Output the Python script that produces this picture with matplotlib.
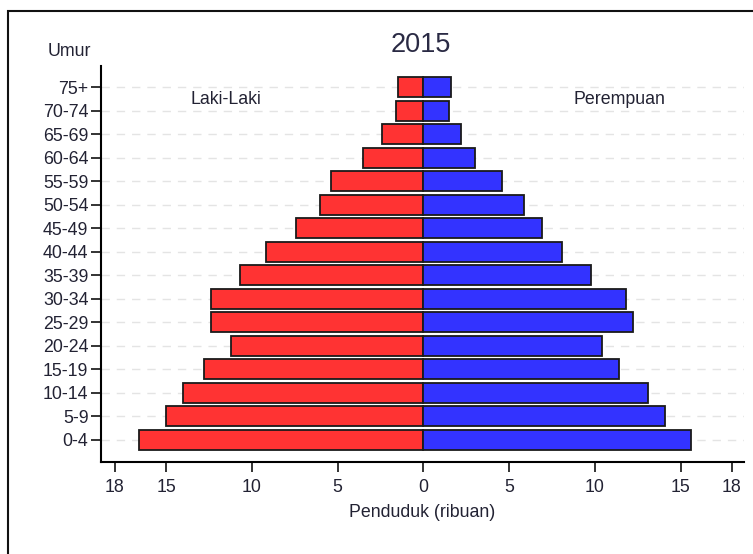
import matplotlib.pyplot as plt
import numpy as np
from matplotlib.patches import Rectangle

# Kelompok umur (dari bawah ke atas)
age_groups = ['0-4', '5-9', '10-14', '15-19', '20-24', '25-29', '30-34', '35-39',
              '40-44', '45-49', '50-54', '55-59', '60-64', '65-69', '70-74', '75+']

# Penduduk (ribuan)
male = [16.6, 15.0, 14.0, 12.8, 11.2, 12.4, 12.4, 10.7,
        9.2, 7.4, 6.0, 5.4, 3.5, 2.4, 1.6, 1.5]
female = [15.6, 14.1, 13.1, 11.4, 10.4, 12.2, 11.8, 9.8,
          8.1, 6.9, 5.9, 4.6, 3.0, 2.2, 1.5, 1.6]

xticks = [-18, -15, -10, -5, 0, 5, 10, 15, 18]

plt.rcParams['font.family'] = ['Liberation Sans', 'DejaVu Sans']
text_color = '#222233'
fs = 12.8

fig = plt.figure(figsize=(7.53, 5.54), dpi=100)
ax = fig.add_axes([0.1341, 0.1661, 0.8539, 0.7148])

# Bingkai luar
fig.patches.append(Rectangle((8 / 753, -0.1), 1.2, 1 - 11 / 554 + 0.1,
                             transform=fig.transFigure, fill=False,
                             edgecolor='#111111', linewidth=1.5))

y = np.arange(len(age_groups))

# Garis bantu putus-putus
for yy in y:
    ax.axhline(yy, color='#e4e4e4', linestyle=(0, (6, 5)), linewidth=1, zorder=0)

ax.barh(y, -np.array(male), height=0.84, color='#ff3333', edgecolor='#1a1a1a',
        linewidth=1.3, zorder=2)
ax.barh(y, female, height=0.84, color='#3333ff', edgecolor='#1a1a1a',
        linewidth=1.3, zorder=2)

ax.set_xlim(-18.8, 18.7)
ax.set_ylim(-0.94, 15.9)

ax.set_yticks(y)
ax.set_yticklabels(age_groups)
ax.set_xticks(xticks)
ax.set_xticklabels([str(abs(t)) for t in xticks])
ax.tick_params(axis='both', labelsize=fs, colors='#111111', labelcolor=text_color,
               length=7, width=1.2)
ax.tick_params(axis='x', pad=5)
ax.tick_params(axis='y', pad=2)

ax.spines['right'].set_visible(False)
ax.spines['top'].set_visible(False)
ax.spines['left'].set_linewidth(1.5)
ax.spines['bottom'].set_linewidth(1.5)

ax.set_xlabel('Penduduk (ribuan)', fontsize=fs, color=text_color, labelpad=6)

fig.text(421 / 753, 1 - 45 / 554, '2015', ha='center', va='center',
         fontsize=19.5, color='#2a2a44')
fig.text(69 / 753, 1 - 51 / 554, 'Umur', ha='center', va='center',
         fontsize=fs, color=text_color)
fig.text(226 / 753, 1 - 99 / 554, 'Laki-Laki', ha='center', va='center',
         fontsize=fs, color=text_color)
fig.text(619 / 753, 1 - 99 / 554, 'Perempuan', ha='center', va='center',
         fontsize=fs, color=text_color)

fig.savefig('out.png', dpi=100)
